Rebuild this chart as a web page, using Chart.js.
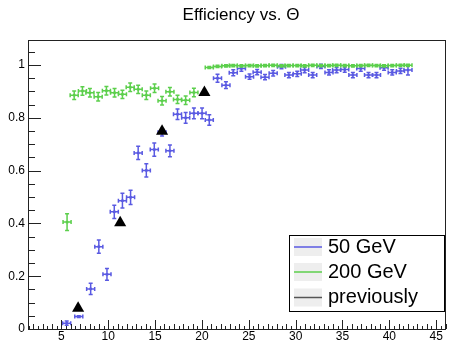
<!DOCTYPE html>
<html>
<head>
<meta charset="utf-8">
<script src="https://cdn.jsdelivr.net/npm/chart.js@4"></script>
<style>
  body { margin: 0; background: #fff; }
  canvas { display: block; }
</style>
</head>
<body>
<canvas id="chart" width="453" height="342"></canvas>
<script>
// Data
const blueTheta = [5.56, 6.85, 8.12, 8.99, 9.86, 10.64, 11.51, 12.38, 13.19, 14.06, 14.91, 15.74, 16.58, 17.39, 18.26, 19.14, 20.01, 20.78, 21.66, 22.56, 23.34, 24.21, 25.08, 25.89, 26.73, 27.60, 28.49, 29.28, 30.17, 30.96, 31.82, 32.70, 33.56, 34.37, 35.24, 36.11, 36.95, 37.78, 38.63, 39.44, 40.31, 41.19, 41.99];
const blueEff = [0.022, 0.047, 0.152, 0.312, 0.207, 0.444, 0.486, 0.499, 0.667, 0.601, 0.680, 0.745, 0.675, 0.814, 0.800, 0.817, 0.817, 0.792, 0.950, 0.924, 0.971, 0.987, 0.956, 0.973, 0.954, 0.969, 0.994, 0.962, 0.967, 0.981, 0.962, 0.995, 0.972, 0.981, 0.983, 0.962, 0.987, 0.962, 0.962, 0.990, 0.972, 0.978, 0.981];
const blueErr = [0.008, 0.003, 0.021, 0.025, 0.022, 0.025, 0.028, 0.027, 0.025, 0.025, 0.025, 0.014, 0.022, 0.02, 0.02, 0.02, 0.02, 0.02, 0.015, 0.013, 0.011, 0.01, 0.01, 0.01, 0.01, 0.01, 0.008, 0.01, 0.01, 0.01, 0.01, 0.008, 0.01, 0.01, 0.01, 0.01, 0.01, 0.01, 0.01, 0.01, 0.01, 0.01, 0.019];

const greenTheta = [5.60, 6.36, 7.24, 8.04, 8.92, 9.80, 10.67, 11.51, 12.34, 13.19, 14.06, 14.94, 15.74, 16.58, 17.39, 18.26, 19.14, 20.78, 21.66, 22.56, 23.34, 24.21, 25.08, 25.89, 26.73, 27.60, 28.49, 29.28, 30.17, 30.96, 31.82, 32.70, 33.56, 34.37, 35.24, 36.11, 36.95, 37.78, 38.63, 39.44, 40.31, 41.19, 41.99];
const greenEff = [0.405, 0.886, 0.902, 0.895, 0.880, 0.903, 0.895, 0.889, 0.916, 0.908, 0.886, 0.912, 0.865, 0.899, 0.870, 0.867, 0.896, 0.991, 0.995, 0.997, 0.998, 0.997, 0.998, 0.997, 0.998, 0.999, 0.997, 0.998, 0.998, 0.997, 0.999, 0.998, 0.998, 0.999, 0.998, 0.997, 0.998, 0.999, 0.998, 0.997, 0.998, 0.999, 0.999];
const greenErr = [0.032, 0.016, 0.016, 0.016, 0.016, 0.016, 0.016, 0.016, 0.016, 0.016, 0.016, 0.016, 0.016, 0.016, 0.016, 0.016, 0.016, 0.004, 0.004, 0.004, 0.004, 0.004, 0.004, 0.004, 0.004, 0.004, 0.004, 0.004, 0.004, 0.004, 0.004, 0.004, 0.004, 0.004, 0.004, 0.004, 0.004, 0.004, 0.004, 0.004, 0.004, 0.004, 0.004];

const prevTheta = [6.78, 11.27, 15.74, 20.26];
const prevEff = [0.079, 0.403, 0.749, 0.896];

const binHalfWidth = 0.43;
const xTickLabels = [5, 10, 15, 20, 25, 30, 35, 40, 45];
const yTickLabels = [0, 0.2, 0.4, 0.6, 0.8, 1];

const BLUE = '#5a5ae2';
const GREEN = '#5ccf4c';
const FONT = '"Liberation Sans", Arial, sans-serif';

function toPoints(xs, ys) {
    return xs.map((x, i) => ({ x: x, y: ys[i] }));
}

// Error bars (ROOT style, with small end caps), drawn right after each dataset
const errorBars = {
    id: 'errorBars',
    afterDatasetDraw(chart, args) {
        const ds = chart.data.datasets[args.index];
        if (!ds.yErr) return;
        const { ctx, scales: { x, y } } = chart;
        const cap = 2;
        ctx.save();
        ctx.strokeStyle = ds.borderColor;
        ctx.lineWidth = 1.5;
        ds.data.forEach((p, j) => {
            const px = x.getPixelForValue(p.x);
            const py = y.getPixelForValue(p.y);
            const x0 = x.getPixelForValue(p.x - ds.xErr);
            const x1 = x.getPixelForValue(p.x + ds.xErr);
            const y0 = y.getPixelForValue(p.y - ds.yErr[j]);
            const y1 = y.getPixelForValue(p.y + ds.yErr[j]);
            ctx.beginPath();
            ctx.moveTo(x0, py); ctx.lineTo(x1, py);
            ctx.moveTo(px, y0); ctx.lineTo(px, y1);
            // caps
            ctx.moveTo(x0, py - cap); ctx.lineTo(x0, py + cap);
            ctx.moveTo(x1, py - cap); ctx.lineTo(x1, py + cap);
            ctx.moveTo(px - cap, y0); ctx.lineTo(px + cap, y0);
            ctx.moveTo(px - cap, y1); ctx.lineTo(px + cap, y1);
            ctx.stroke();
        });
        ctx.restore();
    }
};

// Frame, inward ticks, tick labels, title and legend box
const rootFrame = {
    id: 'rootFrame',
    afterDraw(chart) {
        const { ctx, chartArea: a, scales: { x, y } } = chart;
        ctx.save();
        ctx.strokeStyle = '#222';
        ctx.lineWidth = 1;
        ctx.strokeRect(a.left + 0.5, a.top + 0.5, a.right - a.left - 1, a.bottom - a.top);

        // y ticks
        ctx.beginPath();
        for (let v = 0; v <= 1.0951; v += 0.05) {
            const py = Math.round(y.getPixelForValue(v)) + 0.5;
            const major = Math.abs(v / 0.2 - Math.round(v / 0.2)) < 1e-6;
            ctx.moveTo(a.left, py);
            ctx.lineTo(a.left + (major ? 13 : 7), py);
        }
        // x ticks
        for (let v = 1.5; v <= 46; v += 0.5) {
            const px = Math.round(x.getPixelForValue(v)) + 0.5;
            let len = 3;
            if (v % 5 === 0) len = 9;
            else if (v % 1 === 0) len = 5;
            ctx.moveTo(px, a.bottom);
            ctx.lineTo(px, a.bottom - len);
        }
        ctx.stroke();

        ctx.fillStyle = '#000';
        ctx.font = '12px ' + FONT;
        ctx.textAlign = 'right';
        ctx.textBaseline = 'middle';
        yTickLabels.forEach(v => ctx.fillText(String(v), a.left - 3, y.getPixelForValue(v)));
        ctx.textAlign = 'center';
        xTickLabels.forEach(v => ctx.fillText(String(v), x.getPixelForValue(v), a.bottom + 8));

        // title
        ctx.font = '17px ' + FONT;
        ctx.fillText('Efficiency vs. \u0398', 241, 15);

        // legend
        const lx = 289.5, ly = 235.5, lw = 155, lh = 76;
        ctx.fillStyle = '#fff';
        ctx.fillRect(lx, ly, lw, lh);
        ctx.strokeStyle = '#000';
        ctx.strokeRect(lx, ly, lw, lh);
        const rows = [247, 272, 297.5];
        const colors = [BLUE, GREEN, '#555'];
        const labels = ['50 GeV', '200 GeV', 'previously'];
        ctx.font = '20px ' + FONT;
        ctx.textAlign = 'left';
        rows.forEach((ry, i) => {
            ctx.fillStyle = '#eeeeee';
            ctx.fillRect(294, ry - 9, 28, 18);
            ctx.strokeStyle = colors[i];
            ctx.lineWidth = 1.5;
            ctx.beginPath();
            ctx.moveTo(294, ry); ctx.lineTo(322, ry);
            ctx.stroke();
            ctx.fillStyle = '#000';
            ctx.fillText(labels[i], 328, ry);
        });
        ctx.restore();
    }
};

const chart = new Chart(document.getElementById('chart'), {
    type: 'scatter',
    data: {
        datasets: [
            {
                label: 'previously',
                data: toPoints(prevTheta, prevEff),
                pointStyle: 'triangle',
                pointRadius: 7,
                backgroundColor: '#000',
                borderColor: '#000',
                borderWidth: 0
            },
            {
                label: '200 GeV',
                data: toPoints(greenTheta, greenEff),
                yErr: greenErr,
                xErr: binHalfWidth,
                pointStyle: 'rect',
                pointRadius: 1.8,
                backgroundColor: GREEN,
                borderColor: GREEN,
                borderWidth: 0
            },
            {
                label: '50 GeV',
                data: toPoints(blueTheta, blueEff),
                yErr: blueErr,
                xErr: binHalfWidth,
                pointStyle: 'rect',
                pointRadius: 1.8,
                backgroundColor: BLUE,
                borderColor: BLUE,
                borderWidth: 0
            }
        ]
    },
    options: {
        responsive: false,
        animation: false,
        devicePixelRatio: 1,
        layout: { padding: { left: 28, right: 1, top: 40, bottom: 13 } },
        plugins: { legend: { display: false }, tooltip: { enabled: false } },
        scales: {
            x: { type: 'linear', min: 1.43, max: 46.05, display: false },
            y: { type: 'linear', min: 0, max: 1.095, display: false }
        }
    },
    plugins: [errorBars, rootFrame]
});
</script>
</body>
</html>
